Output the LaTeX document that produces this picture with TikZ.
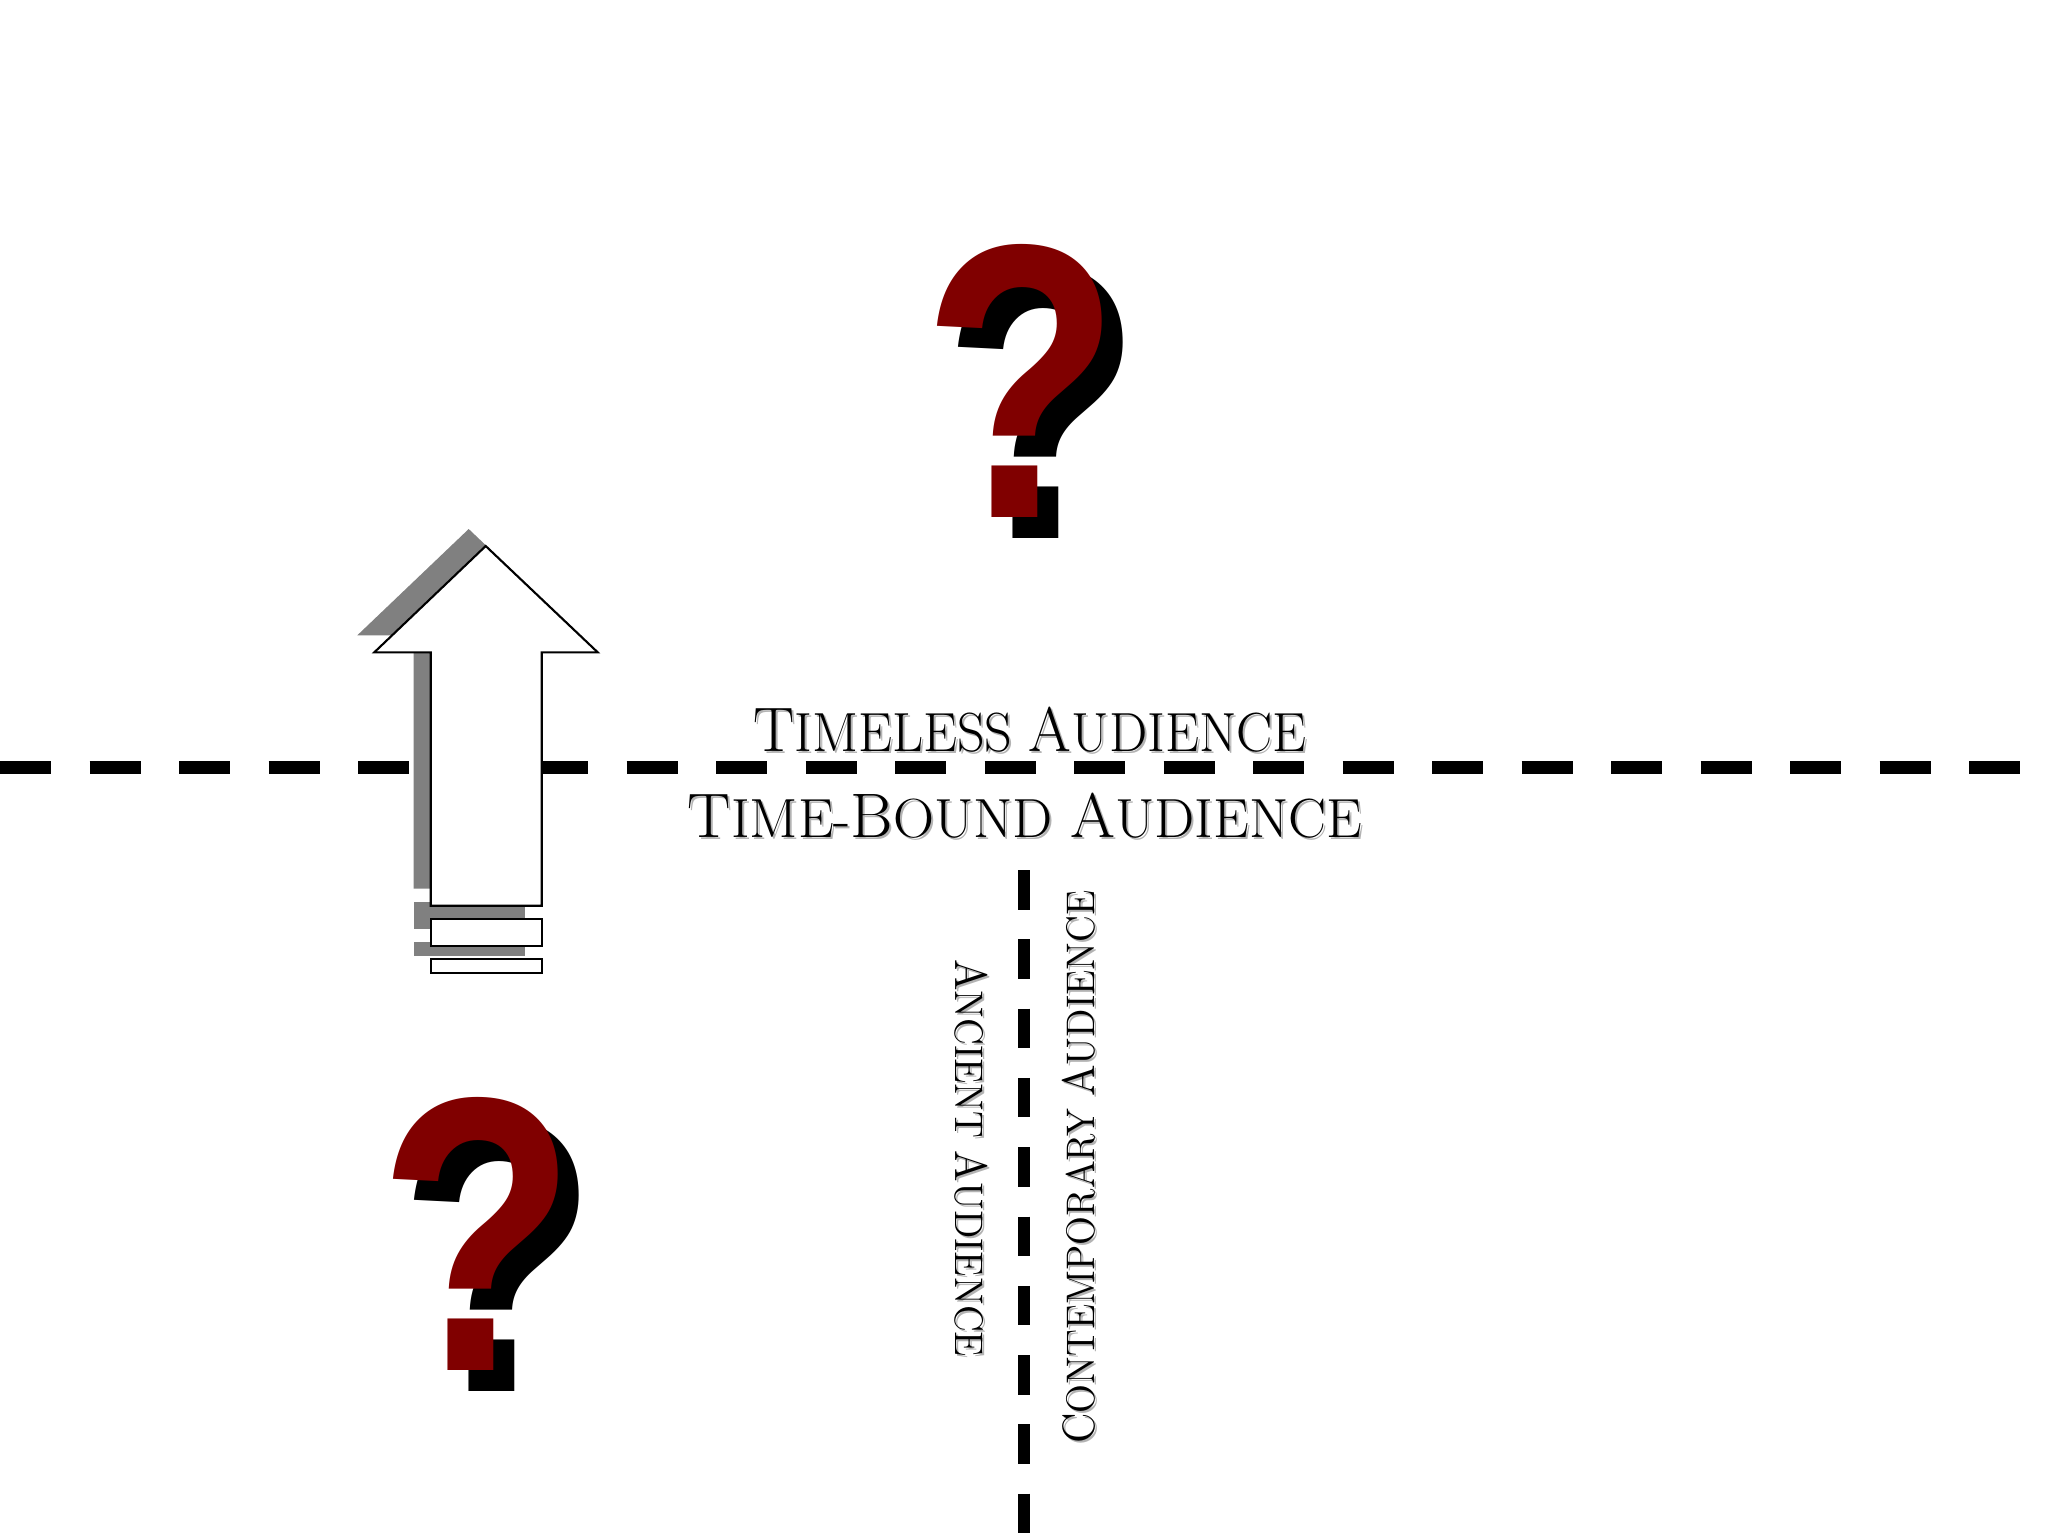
\documentclass[tikz,border=0pt]{standalone}
\usepackage{fontspec}
\usepackage{graphicx}
\usepackage{tikz}
\usetikzlibrary{positioning}
\newfontfamily\qmarkfont{Liberation Sans}
\definecolor{qred}{RGB}{128,0,0}
\definecolor{shadowgray}{RGB}{128,128,128}
% initials of the small caps labels
\newcommand{\initcap}[1]{{\fontsize{17.9}{20}\selectfont#1}}
\newcommand{\sideinit}[1]{{\fontsize{12.9}{15}\selectfont#1}}
\tikzset{
	divider/.style={
		% The line:
		line width=1.3mm,
		% The dashes:
		dash pattern=on 5.1mm off 3.85mm,
	}}
\tikzset{
	splitter/.style={
		line width=1.2mm,
		dash pattern=on 3.95mm off 2.98mm,
	}}
\tikzset{
	biglabel/.style={
		% The text:
		font=\fontsize{15.7}{18}\selectfont,
		inner sep=0pt,anchor=base,
	}}
\tikzset{
	sidelabel/.style={
		font=\fontsize{11.35}{14}\selectfont,
		inner sep=0pt,anchor=base,
	}}
\tikzset{
	qmark/.style={
		% The glyph:
		font=\qmarkfont\bfseries\fontsize{105}{105}\selectfont,
		inner sep=0pt,anchor=base,
	}}
\tikzset{
	arrowbody/.style={
		fill=white,draw=black,line width=0.6pt,
	}}

\begin{document}
\begin{tikzpicture}[x=0.1mm,y=-0.1mm]
	\path[fill=white] (0,0) rectangle (2048,1536);
	\useasboundingbox (0,0) rectangle (2048,1536);
	% dividing lines
	\coordinate (h-l) at (0,767.5);
	\coordinate (h-r) at (2048,767.5);
	\coordinate (v-t) at (1024,870);
	\coordinate (v-b) at (1024,1536);
	\draw[divider] (h-l) -- (h-r);
	\draw[splitter] (v-t) -- (v-b);
	% the arrow, shadow first
	\begin{scope}[shift={(-17,-17)}]
		\fill[shadowgray] (485.7,546) -- (597.7,652.3) -- (541.7,652.3) -- (541.7,905.7) -- (430.7,905.7) -- (430.7,652.3) -- (374.3,652.3) -- cycle;
		\fill[shadowgray] (430.7,919) rectangle (541.7,945.7);
		\fill[shadowgray] (430.7,959.3) rectangle (541.7,972.7);
	\end{scope}
	\draw[arrowbody] (485.7,546) -- (597.7,652.3) -- (541.7,652.3) -- (541.7,905.7) -- (430.7,905.7) -- (430.7,652.3) -- (374.3,652.3) -- cycle;
	\draw[arrowbody] (430.7,919) rectangle (541.7,945.7);
	\draw[arrowbody] (430.7,959.3) rectangle (541.7,972.7);
	% labels
	\node[biglabel,text=shadowgray!60] (tl-s) at (1032,753) {\scalebox{0.98}[1]{\initcap{T}IMELESS \initcap{A}UDIENCE}};
	\node[biglabel] (tl) at (1030,751) {\scalebox{0.98}[1]{\initcap{T}IMELESS \initcap{A}UDIENCE}};
	\node[biglabel,text=shadowgray!60] (tb-s) at (1027,839) {\scalebox{1.03}[1]{\initcap{T}IME-\initcap{B}OUND \initcap{A}UDIENCE}};
	\node[biglabel] (tb) at (1025,837) {\scalebox{1.03}[1]{\initcap{T}IME-\initcap{B}OUND \initcap{A}UDIENCE}};
	\node[sidelabel,rotate=-90,text=shadowgray!60] (an-s) at (957,1160) {\scalebox{0.95}[1]{\sideinit{A}NCIENT \sideinit{A}UDIENCE}};
	\node[sidelabel,rotate=-90] (an) at (955,1158) {\scalebox{0.95}[1]{\sideinit{A}NCIENT \sideinit{A}UDIENCE}};
	\node[sidelabel,rotate=90,text=shadowgray!60] (ct-s) at (1096,1169) {\scalebox{0.95}[1]{\sideinit{C}ONTEMPORARY \sideinit{A}UDIENCE}};
	\node[sidelabel,rotate=90] (ct) at (1094,1167) {\scalebox{0.95}[1]{\sideinit{C}ONTEMPORARY \sideinit{A}UDIENCE}};
	% question marks
	\node[qmark,text=black] (q-top-s) at (1042.5,538) {\scalebox{0.88}[1.06]{?}};
	\node[qmark,text=qred] (q-top) at (1021.5,517) {\scalebox{0.88}[1.06]{?}};
	\node[qmark,text=black] (q-bot-s) at (499,1391) {\scalebox{0.88}[1.06]{?}};
	\node[qmark,text=qred] (q-bot) at (478,1370) {\scalebox{0.88}[1.06]{?}};
\end{tikzpicture}
\end{document}
